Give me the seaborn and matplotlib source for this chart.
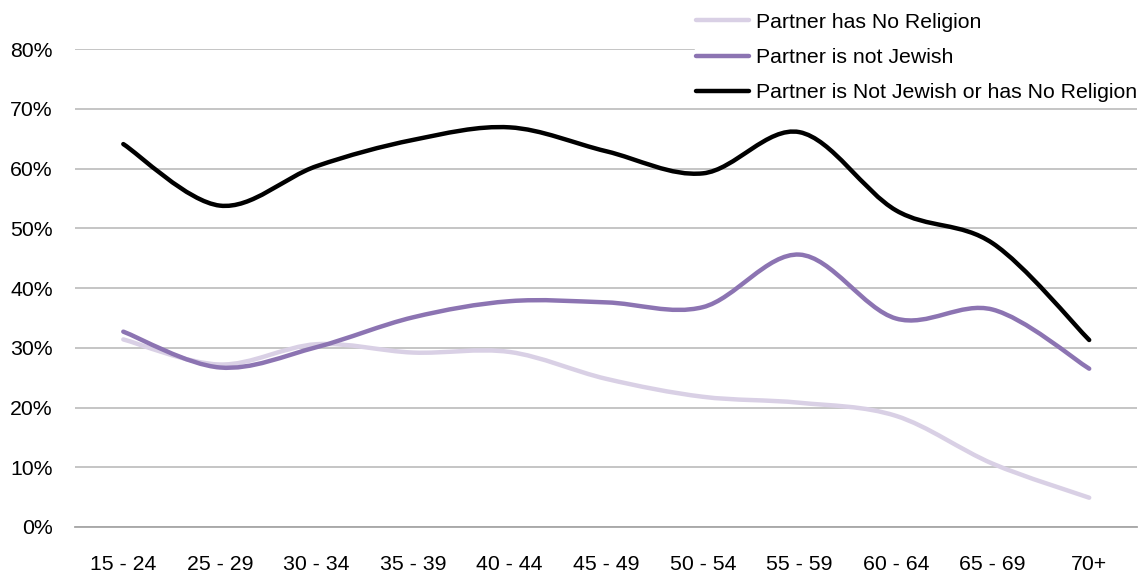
import numpy as np
import pandas as pd
import matplotlib
matplotlib.use("Agg")
import matplotlib.pyplot as plt
import matplotlib.ticker as ticker
from matplotlib.path import Path
from matplotlib.patches import PathPatch
from matplotlib.lines import Line2D
import seaborn as sns

# values (percent)
age_groups = ['15 - 24', '25 - 29', '30 - 34', '35 - 39', '40 - 44', '45 - 49',
              '50 - 54', '55 - 59', '60 - 64', '65 - 69', '70+']
no_religion = [31.4, 27.2, 30.6, 29.2, 29.3, 24.8, 21.8, 20.8, 18.6, 10.6, 4.9]
not_jewish = [32.7, 26.7, 30.1, 35.1, 37.8, 37.6, 36.8, 45.6, 34.9, 36.4, 26.5]
either = [64.1, 53.8, 60.4, 64.8, 66.9, 62.9, 59.2, 66.1, 53.0, 47.5, 31.3]

series_names = ['Partner has No Religion', 'Partner is not Jewish',
                'Partner is Not Jewish or has No Religion']
series_colors = ['#D9D0E5', '#8C74B2', '#000000']


def SmoothPath(xy):
	# excel-style smoothed line: cubic bezier through every point
	n = len(xy)
	verts = [xy[0]]
	codes = [Path.MOVETO]
	for i in range(n - 1):
		p0 = xy[i - 1] if i > 0 else xy[i]
		p3 = xy[i + 2] if i + 2 < n else xy[i + 1]
		c1 = xy[i] + (xy[i + 1] - p0) / 6.0
		c2 = xy[i + 1] - (p3 - xy[i]) / 6.0
		verts += [c1, c2, xy[i + 1]]
		codes += [Path.CURVE4] * 3
	return Path(verts, codes)


df = pd.DataFrame({
	'pos': list(range(len(age_groups))) * 3,
	'value': no_religion + not_jewish + either,
	'series': sum([[s] * len(age_groups) for s in series_names], []),
})

sns.set_theme(style="white")
plt.rcParams['font.family'] = ['Liberation Sans', 'DejaVu Sans']
plt.rcParams['text.color'] = 'black'
fsize = 15.3

fig = plt.figure(figsize=(11.4, 5.73), dpi=100)
ax = fig.add_axes([0.0658, 0.0803, 0.932, 0.834])

sns.lineplot(data=df, x='pos', y='value', hue='series', hue_order=series_names,
             palette=series_colors, linewidth=3.2, legend=False, ax=ax)

# swap the straight segments for smooth curves
for line, col in zip(ax.lines, series_colors):
	xy = line.get_xydata()
	line.set_visible(False)
	patch = PathPatch(SmoothPath(xy), fill=False, edgecolor=col, linewidth=3.2,
	                  capstyle='round', joinstyle='round', zorder=3)
	ax.add_patch(patch)

ax.set_xlim(-0.5, len(age_groups) - 0.5)
ax.set_ylim(0, 80)
ax.set_xlabel('')
ax.set_ylabel('')

ax.yaxis.set_major_locator(ticker.MultipleLocator(10))
ax.yaxis.set_major_formatter(ticker.PercentFormatter(decimals=0))
ax.yaxis.grid(True, color='#C0C0C0', linewidth=1.3)
ax.set_axisbelow(True)

ax.set_xticks(range(len(age_groups)))
ax.set_xticklabels(age_groups)
ax.xaxis.set_minor_locator(ticker.FixedLocator([i - 0.5 for i in range(len(age_groups) + 1)]))
ax.tick_params(axis='x', which='major', length=0, pad=20, labelsize=fsize, colors='black')
ax.tick_params(axis='x', which='minor', length=6, width=1.3, color='#A6A6A6', direction='out')
ax.tick_params(axis='y', length=0, pad=16, labelsize=fsize, colors='black')

for s in ['left', 'right', 'top']:
	ax.spines[s].set_visible(False)
ax.spines['bottom'].set_color('#A6A6A6')
ax.spines['bottom'].set_linewidth(1.3)

handles = [Line2D([0], [0], color=c, linewidth=3.2) for c in series_colors]
leg = fig.legend(handles, series_names, loc='upper right', bbox_to_anchor=(1.008, 0.998),
                 fontsize=fsize, frameon=True, facecolor='white', edgecolor='white',
                 framealpha=1, handlelength=2.5, handletextpad=0.33, labelspacing=0.76,
                 borderpad=0.05, labelcolor='black')

fig.savefig('out.png', dpi=100)
